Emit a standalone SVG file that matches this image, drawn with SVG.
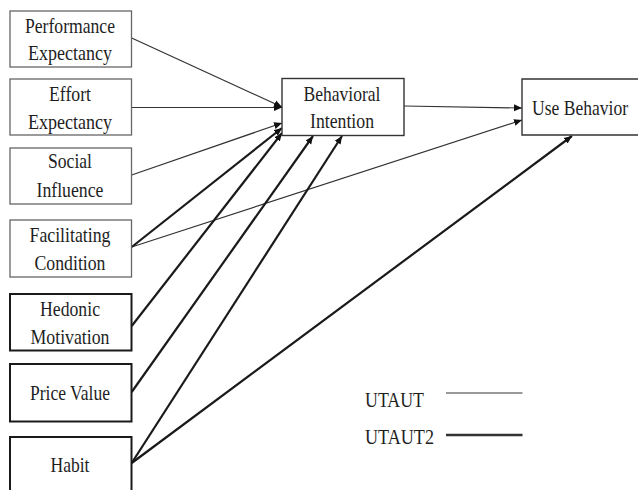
<svg xmlns="http://www.w3.org/2000/svg" width="638" height="490" viewBox="0 0 638 490">
<style>
text{font-family:"Liberation Serif","Times New Roman",serif;font-size:21px;fill:#1e1e1e;text-anchor:middle}
.b1{fill:#fff;stroke:#666;stroke-width:1.3}
.b2{fill:#fff;stroke:#1a1a1a;stroke-width:2}
.b3{fill:#fff;stroke:#333;stroke-width:1.4}
.thin{stroke:#333;stroke-width:1.2;fill:none;marker-end:url(#ah)}
.thick{stroke:#1a1a1a;stroke-width:2.2;fill:none;marker-end:url(#ah)}
</style>
<defs>
<marker id="ah" markerUnits="userSpaceOnUse" markerWidth="9" markerHeight="8" refX="8" refY="4" orient="auto">
<path d="M0,0.5 L8,4 L0,7.5 Z" fill="#111"/>
</marker>
</defs>
<rect width="638" height="490" fill="#fff"/>
<g id="connectors">
<path class="thin" d="M131.7,38 L282,107"/>
<path class="thin" d="M131.7,107.5 L282,107.5"/>
<path class="thin" d="M131.7,175 L282,123"/>
<path class="thin" d="M131.7,247 L522,120"/>
<path class="thin" d="M404,106 L522,108"/>
<path class="thick" d="M131.7,247 L282,128"/>
<path class="thick" d="M131.7,326 L282,133"/>
<path class="thick" d="M131.7,392 L313,136"/>
<path class="thick" d="M131.7,463 L342,136"/>
<path class="thick" d="M131.7,463 L572,136"/>
</g>
<g id="pe"><rect class="b1" x="10" y="11" width="121.5" height="56"/>
<text x="70" y="33" textLength="90" lengthAdjust="spacingAndGlyphs">Performance</text>
<text x="70" y="60" textLength="84" lengthAdjust="spacingAndGlyphs">Expectancy</text></g>
<g id="ee"><rect class="b1" x="10" y="79" width="121.5" height="56"/>
<text x="70" y="101" textLength="42" lengthAdjust="spacingAndGlyphs">Effort</text>
<text x="70" y="129" textLength="84" lengthAdjust="spacingAndGlyphs">Expectancy</text></g>
<g id="si"><rect class="b1" x="10" y="148" width="121.5" height="56"/>
<text x="70" y="168" textLength="44" lengthAdjust="spacingAndGlyphs">Social</text>
<text x="70" y="197" textLength="67" lengthAdjust="spacingAndGlyphs">Influence</text></g>
<g id="fc"><rect class="b1" x="10" y="220" width="121.5" height="57"/>
<text x="70" y="242" textLength="81" lengthAdjust="spacingAndGlyphs">Facilitating</text>
<text x="70" y="270" textLength="71" lengthAdjust="spacingAndGlyphs">Condition</text></g>
<g id="hm"><rect class="b2" x="10" y="294" width="121.5" height="56.5"/>
<text x="70" y="316" textLength="60" lengthAdjust="spacingAndGlyphs">Hedonic</text>
<text x="70" y="344" textLength="79" lengthAdjust="spacingAndGlyphs">Motivation</text></g>
<g id="pv"><rect class="b2" x="10" y="364" width="121.5" height="57.5"/>
<text x="70" y="400" textLength="80" lengthAdjust="spacingAndGlyphs">Price Value</text></g>
<g id="habit"><rect class="b2" x="10" y="437" width="121.5" height="58"/>
<text x="70" y="472" textLength="39" lengthAdjust="spacingAndGlyphs">Habit</text></g>
<g id="bi"><rect class="b3" x="282" y="78.5" width="122" height="57"/>
<text x="342" y="100.5" textLength="77" lengthAdjust="spacingAndGlyphs">Behavioral</text>
<text x="342" y="127.5" textLength="64" lengthAdjust="spacingAndGlyphs">Intention</text></g>
<g id="ub"><path class="b3" d="M638,79 H522 V135 H638"/>
<text x="580" y="115" font-size="18" textLength="96" lengthAdjust="spacingAndGlyphs">Use Behavior</text></g>
<g id="legend">
<text x="394.5" y="406.5" textLength="59" lengthAdjust="spacingAndGlyphs">UTAUT</text>
<line x1="446" y1="393" x2="522.5" y2="393" stroke="#999" stroke-width="2"/>
<text x="399.5" y="444" textLength="69" lengthAdjust="spacingAndGlyphs">UTAUT2</text>
<line x1="446" y1="435" x2="522.5" y2="435" stroke="#333" stroke-width="2.5"/>
</g>
</svg>
